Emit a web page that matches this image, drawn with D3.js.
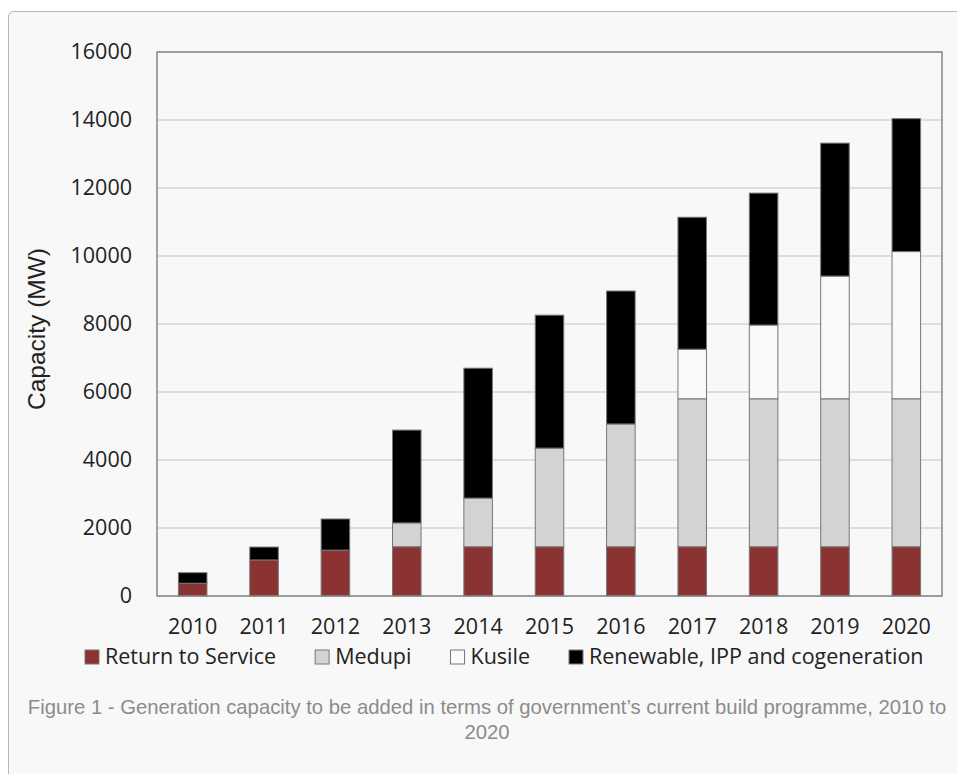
<!DOCTYPE html>
<html>
<head>
<meta charset="utf-8">
<script src="https://cdnjs.cloudflare.com/ajax/libs/d3/7.8.5/d3.min.js"></script>
<style>
  body { margin: 0; background: #ffffff; }
</style>
</head>
<body>
<div id="chart"></div>
<script>
// data (MW)
const years = ["2010", "2011", "2012", "2013", "2014", "2015", "2016", "2017", "2018", "2019", "2020"];
const returnToService = [375, 1060, 1350, 1450, 1450, 1450, 1450, 1450, 1450, 1450, 1450];
const medupi = [0, 0, 0, 700, 1430, 2900, 3610, 4350, 4350, 4350, 4350];
const kusile = [0, 0, 0, 0, 0, 0, 0, 1460, 2170, 3610, 4330];
const renewable = [310, 380, 915, 2730, 3820, 3910, 3910, 3880, 3880, 3910, 3910];
const seriesNames = ["Return to Service", "Medupi", "Kusile", "Renewable, IPP and cogeneration"];
const seriesColours = ["#8b3232", "#d3d3d3", "#fafafa", "#000000"];
const yTicks = [0, 2000, 4000, 6000, 8000, 10000, 12000, 14000, 16000];
const captionLines = [
  "Figure 1 - Generation capacity to be added in terms of government\u2019s current build programme, 2010 to",
  "2020"
];

const width = 957, height = 774;
const margin = {top: 52, right: 15, bottom: 178, left: 157};
const plotW = width - margin.left - margin.right;
const plotH = height - margin.top - margin.bottom;
const labelFont = "'Open Sans', sans-serif";

const svg = d3.select("#chart").append("svg")
    .attr("width", width)
    .attr("height", height);

// the grey card behind the figure
svg.append("rect")
    .attr("x", 8.5).attr("y", 11.5)
    .attr("width", 1000).attr("height", 900)
    .attr("rx", 5)
    .attr("fill", "#f8f8f8")
    .attr("stroke", "#bdb5ad")
    .attr("stroke-width", 1);

const g = svg.append("g")
    .attr("transform", `translate(${margin.left},${margin.top})`);

const x = d3.scaleBand().domain(years).range([0, plotW])
    .paddingInner(0.6).paddingOuter(0.3);
const y = d3.scaleLinear().domain([0, 16000]).range([plotH, 0]);

// gridlines
g.append("g")
  .selectAll("line")
  .data(yTicks)
  .join("line")
    .attr("x1", 0).attr("x2", plotW)
    .attr("y1", d => y(d)).attr("y2", d => y(d))
    .attr("stroke", "#d4d4d4")
    .attr("stroke-width", 1.5);

// stacked bars
const table = years.map((yr, i) => ({
  year: yr,
  s0: returnToService[i], s1: medupi[i], s2: kusile[i], s3: renewable[i]
}));
const stack = d3.stack().keys(["s0", "s1", "s2", "s3"]);
const layers = stack(table);

g.selectAll(".layer")
  .data(layers)
  .join("g")
    .attr("class", "layer")
    .attr("fill", (d, i) => seriesColours[i])
  .selectAll("rect")
  .data(d => d.filter(v => v[1] - v[0] > 0))
  .join("rect")
    .attr("x", d => x(d.data.year))
    .attr("y", d => y(d[1]))
    .attr("width", x.bandwidth())
    .attr("height", d => y(d[0]) - y(d[1]))
    .attr("stroke", "#777")
    .attr("stroke-width", 1);

// plot frame
g.append("rect")
    .attr("width", plotW).attr("height", plotH)
    .attr("fill", "none")
    .attr("stroke", "#868686")
    .attr("stroke-width", 1.5);

// y axis labels
const yAxis = d3.axisLeft(y).tickValues(yTicks).tickFormat(d3.format("d"))
    .tickSize(0).tickPadding(25);
g.append("g").call(yAxis)
    .call(a => a.select(".domain").remove())
    .selectAll("text")
    .attr("font-family", labelFont)
    .attr("font-size", 21.5)
    .attr("fill", "#222");

// x axis labels
const xAxis = d3.axisBottom(x).tickSize(0).tickPadding(23);
g.append("g")
    .attr("transform", `translate(0,${plotH})`)
    .call(xAxis)
    .call(a => a.select(".domain").remove())
    .selectAll("text")
    .attr("font-family", labelFont)
    .attr("font-size", 21.5)
    .attr("fill", "#222");

// y axis title
svg.append("text")
    .attr("transform", `translate(45,${margin.top + plotH / 2 + 5}) rotate(-90)`)
    .attr("text-anchor", "middle")
    .attr("font-family", "'Liberation Sans', Arial, sans-serif")
    .attr("font-size", 24.5)
    .attr("fill", "#222")
    .text("Capacity (MW)");

// legend
const legend = svg.append("g").attr("transform", "translate(0,664)");
let lx = 85;
seriesNames.forEach((name, i) => {
  legend.append("rect")
      .attr("x", lx).attr("y", -14)
      .attr("width", 14).attr("height", 14)
      .attr("fill", seriesColours[i])
      .attr("stroke", "#777")
      .attr("stroke-width", 1);
  const t = legend.append("text")
      .attr("x", lx + 20)
      .attr("font-family", labelFont)
      .attr("font-size", 21.5)
      .attr("fill", "#222")
      .text(name);
  lx += 20 + t.node().getComputedTextLength() + 39;
});

// caption
svg.append("g")
  .selectAll("text")
  .data(captionLines)
  .join("text")
    .attr("x", 487)
    .attr("y", (d, i) => 714 + i * 25)
    .attr("text-anchor", "middle")
    .attr("font-family", "'Liberation Sans', Arial, sans-serif")
    .attr("font-size", 20.3)
    .attr("fill", "#8c8c8c")
    .text(d => d);
</script>
</body>
</html>
